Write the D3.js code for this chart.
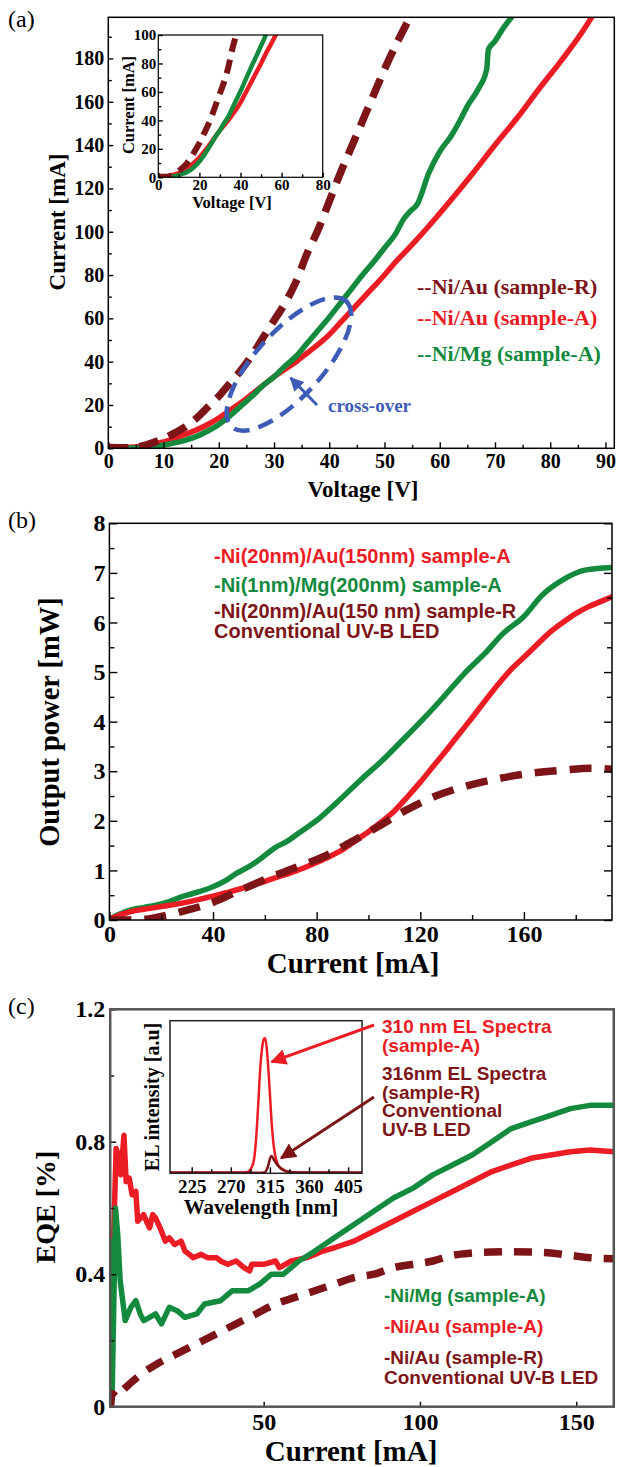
<!DOCTYPE html>
<html>
<head>
<meta charset="utf-8">
<script src="https://cdnjs.cloudflare.com/ajax/libs/d3/7.8.5/d3.min.js"></script>
<style>
body { margin: 0; background: #fff; }
</style>
</head>
<body>
<svg id="fig"></svg>
<script>
// colours
const colR = '#7d1518';     // Ni/Au sample-R (dashed)
const colA = '#ec1c24';     // Ni/Au sample-A
const colMg = '#138a3e';    // Ni/Mg sample-A
const colNote = '#3c5cb8';  // cross-over note
const serif = '"Liberation Serif", "Times New Roman", serif';
const sans = '"Liberation Sans", Arial, sans-serif';

// (a) I-V curves, [voltage V, current mA]
const ivSampleR = [[0,0.5],[2,0.3],[4,0.3],[6,1],[8,2.5],[10,4.5],[12,7],[14,10],[16,14],[18,19],[20,24],[22,30],[24,36],[26,43],[28,51],[30,59],[32,67],[34,77],[36,90],[38,101],[40,114],[42,127],[44,139],[46,151],[48,163],[50,175],[52,186],[54,196],[55,201]];
const ivNiAu = [[0,0.5],[4,0.5],[8,2],[10,3],[12,4.5],[14,6.5],[16,8.5],[18,11],[20,14],[22,17.5],[24,21],[26,25],[28,29],[30,33],[32,36.5],[34,40],[36,44],[38,48],[40,52.5],[42,58],[44,63.5],[46,69],[48,74.5],[50,80],[52,86],[55,94],[58,102.5],[62,114.5],[66,127],[70,140],[74,152.5],[78,166],[82,179],[86,193],[87.5,199]];
const ivNiMg = [[0,0],[4,0],[8,0.8],[10,1.5],[12,2.5],[14,3.8],[16,5.5],[18,8],[20,11],[22,15],[24,19.5],[26,24],[28,29],[30,33],[32,38],[34,42.5],[36,48.5],[38,54.5],[40,60.5],[42,67],[44,73.5],[46,80],[48,86],[50,92.5],[52,99],[53.5,106],[54.5,109],[56,113],[58,127],[60,137],[62,144],[64,153],[65,158],[67,166],[68.5,175],[68.8,184],[70,188],[71.5,194],[73,199]];
const ivXTicks = [0,10,20,30,40,50,60,70,80,90];
const ivXMinor = [5,15,25,35,45,55,65,75,85];
const ivYTicks = [0,20,40,60,80,100,120,140,160,180];
const ivYMinor = [10,30,50,70,90,110,130,150,170,190];
const insetXTicks = [0,20,40,60,80];
const insetXMinor = [10,30,50,70];
const insetYTicks = [0,20,40,60,80,100];
const insetYMinor = [10,30,50,70,90];
const ivLegend = ['--Ni/Au (sample-R)', '--Ni/Au (sample-A)', '--Ni/Mg (sample-A)'];

// (b) output power, [current mA, power mW]
const lopNiAu = [[0,0.02],[5,0.12],[10,0.19],[15,0.23],[20,0.27],[25,0.31],[30,0.36],[35,0.42],[40,0.48],[45,0.55],[50,0.62],[55,0.7],[60,0.78],[65,0.87],[70,0.95],[75,1.05],[80,1.16],[85,1.28],[90,1.42],[95,1.6],[100,1.78],[105,1.98],[110,2.2],[115,2.48],[120,2.78],[125,3.1],[130,3.42],[135,3.75],[140,4.08],[145,4.42],[150,4.75],[155,5.05],[160,5.3],[165,5.55],[170,5.8],[175,6.0],[180,6.18],[185,6.32],[190,6.43],[194,6.52]];
const lopNiMg = [[0,0.02],[4,0.12],[8,0.2],[13,0.25],[18,0.3],[23,0.37],[28,0.47],[34,0.56],[40,0.67],[45,0.8],[49,0.94],[54,1.08],[58,1.22],[64,1.46],[69,1.6],[73,1.75],[81,2.05],[88,2.38],[97.5,2.85],[105,3.2],[113,3.62],[122,4.1],[129,4.5],[137,4.97],[145,5.38],[152,5.78],[160,6.12],[167,6.55],[175,6.86],[184,7.06],[194,7.11]];
const lopSampleR = [[0,0],[5,0],[10,0],[15,0.02],[20,0.07],[25,0.13],[30,0.2],[37,0.3],[43,0.42],[49,0.57],[55,0.7],[61,0.84],[67,0.96],[73,1.08],[84,1.31],[94.5,1.61],[103.6,1.88],[114,2.2],[125,2.48],[137,2.69],[149,2.84],[163,2.96],[175,3.02],[186,3.06],[194,3.04]];
const lopXTicks = [0,40,80,120,160];
const lopXMinor = [20,60,100,140,180];
const lopYTicks = [0,1,2,3,4,5,6,7,8];
const lopYMinor = [0.5,1.5,2.5,3.5,4.5,5.5,6.5,7.5];
const lopLegend = ['-Ni(20nm)/Au(150nm) sample-A', '-Ni(1nm)/Mg(200nm) sample-A', '-Ni(20nm)/Au(150 nm) sample-R', 'Conventional UV-B LED'];

// (c) EQE, [current mA, EQE %]
const eqeNiAu = [[1.0,0.47],[1.6,0.38],[2.8,0.78],[3.5,0.76],[4.3,0.7],[5.3,0.82],[6.0,0.68],[7.0,0.69],[7.9,0.64],[9.1,0.65],[9.7,0.56],[11.6,0.58],[12.5,0.56],[13.5,0.54],[14.5,0.58],[15.4,0.57],[17.3,0.53],[18.5,0.5],[19.8,0.51],[21.5,0.49],[23.6,0.5],[24.8,0.47],[26.2,0.46],[27.4,0.45],[30,0.46],[32,0.45],[34.9,0.45],[36.2,0.44],[38.5,0.43],[41.2,0.44],[43.7,0.42],[45.5,0.41],[46.2,0.43],[47.5,0.43],[50,0.43],[53.8,0.44],[55,0.42],[57,0.43],[58.8,0.44],[63.8,0.45],[66.4,0.46],[68.9,0.47],[72.6,0.48],[78.9,0.5],[85.2,0.53],[91.5,0.56],[97.8,0.59],[104.1,0.62],[110.4,0.65],[116.7,0.68],[123,0.71],[129.2,0.73],[135.5,0.75],[141.8,0.76],[148.1,0.77],[154.4,0.775],[162,0.77]];
const eqeNiMg = [[1.0,0.5],[1.5,0.02],[2.6,0.6],[3.3,0.52],[4.1,0.38],[5.7,0.26],[7.5,0.3],[9.1,0.32],[10.5,0.28],[11.6,0.26],[13.5,0.27],[15.4,0.28],[17.3,0.25],[19.8,0.3],[22.3,0.29],[24.8,0.27],[28.6,0.28],[31.1,0.31],[36.2,0.32],[39.9,0.35],[45,0.35],[48.7,0.37],[52.5,0.4],[56.3,0.4],[61.3,0.44],[66.4,0.47],[72.6,0.51],[78.9,0.55],[85.2,0.59],[91.5,0.63],[97.8,0.66],[104.1,0.7],[110.4,0.73],[116.7,0.76],[123,0.8],[129.2,0.84],[135.5,0.86],[141.8,0.88],[148.1,0.9],[154.4,0.91],[162,0.91]];
const eqeSampleR = [[1.0,0.0],[1.5,0.04],[3,0.03],[5,0.05],[9.7,0.09],[16,0.13],[22.3,0.16],[28.6,0.19],[34.9,0.22],[41.2,0.25],[47.5,0.28],[53.8,0.31],[60,0.33],[66.4,0.35],[72.6,0.37],[78.9,0.39],[85.2,0.4],[91.5,0.42],[97.8,0.43],[104.1,0.44],[110.4,0.457],[116.7,0.464],[123,0.467],[129.2,0.468],[135.5,0.467],[141.8,0.464],[148.1,0.457],[154.4,0.45],[162,0.447]];
const eqeXTicks = [50,100,150];
const eqeYTicks = [0,0.4,0.8,1.2];
const eqeYMinor = [0.2,0.6,1.0];
const eqeLegend = ['-Ni/Mg (sample-A)', '-Ni/Au (sample-A)', '-Ni/Au (sample-R)', 'Conventional UV-B LED'];

// (c) inset EL spectra, [wavelength nm, intensity a.u.]
const specSampleA = [[200,0.005],[250,0.005],[285,0.005],[290,0.01],[294,0.04],[297,0.1],[300,0.3],[302,0.5],[304,0.7],[306,0.82],[308,0.88],[309.5,0.885],[311,0.84],[313,0.7],[315,0.52],[317,0.33],[319,0.2],[321,0.12],[324,0.06],[328,0.03],[335,0.012],[350,0.006],[421,0.005]];
const specSampleR = [[200,0.004],[300,0.004],[309,0.006],[311,0.02],[313,0.05],[315,0.095],[316.5,0.113],[318,0.105],[320,0.085],[323,0.06],[326,0.04],[330,0.025],[335,0.012],[345,0.005],[421,0.004]];
const specXTicks = [225,270,315,360,405];
const specXMinor = [247.5,292.5,337.5,382.5];
const specLabelA = ['310 nm EL Spectra', '(sample-A)'];
const specLabelR = ['316nm EL Spectra', '(sample-R)', 'Conventional', 'UV-B LED'];

const svg = d3.select('#fig').attr('width', 617).attr('height', 1467);
const defs = svg.append('defs');

function clip(id, x0, y0, x1, y1) {
    defs.append('clipPath').attr('id', id).append('rect')
        .attr('x', x0).attr('y', y0).attr('width', x1 - x0).attr('height', y1 - y0);
    return 'url(#' + id + ')';
}

function arrowHead(id, color, size) {
    defs.append('marker').attr('id', id)
        .attr('viewBox', '0 0 10 10').attr('refX', 9).attr('refY', 5)
        .attr('markerWidth', size).attr('markerHeight', size)
        .attr('markerUnits', 'userSpaceOnUse').attr('orient', 'auto')
        .append('path').attr('d', 'M0,0L10,5L0,10Z').attr('fill', color);
}

// ticks pointing into the plot, labels optional
function ticks(axis, pos, values, size, labels, fontSize, pad) {
    const a = axis.tickValues(values).tickSizeInner(size).tickSizeOuter(0).tickPadding(pad)
        .tickFormat(labels ? d3.format('') : () => '');
    const g = svg.append('g').attr('transform', pos).call(a)
        .attr('font-family', serif).attr('font-size', fontSize).attr('font-weight', 'bold');
    g.select('.domain').remove();
    g.selectAll('line').attr('stroke', '#000').attr('stroke-width', 1.4);
    g.selectAll('text').attr('fill', '#000');
    return g;
}

function frame(x, y, color, width) {
    svg.append('rect')
        .attr('x', x.range()[0]).attr('y', y.range()[1])
        .attr('width', x.range()[1] - x.range()[0]).attr('height', y.range()[0] - y.range()[1])
        .attr('fill', 'none').attr('stroke', color).attr('stroke-width', width);
}

function curve(data, x, y, color, width, dash, clipUrl, interp) {
    const line = d3.line().x(d => x(d[0])).y(d => y(d[1])).curve(interp || d3.curveMonotoneX);
    svg.append('path').datum(data)
        .attr('d', line)
        .attr('fill', 'none').attr('stroke', color).attr('stroke-width', width)
        .attr('stroke-dasharray', dash).attr('stroke-linejoin', 'round')
        .attr('stroke-linecap', dash ? 'butt' : 'round')
        .attr('clip-path', clipUrl);
}

function label(text, x, y, size, color, family, anchor, rotate) {
    const t = svg.append('text').text(text)
        .attr('font-family', family).attr('font-size', size).attr('font-weight', 'bold')
        .attr('fill', color).attr('text-anchor', anchor || 'start');
    if (rotate) {
        t.attr('transform', 'translate(' + x + ',' + y + ') rotate(-90)').attr('dy', '0.35em');
    } else {
        t.attr('x', x).attr('y', y);
    }
    return t;
}

function panelTag(text, y) {
    svg.append('text').text(text).attr('x', 8).attr('y', y)
        .attr('font-family', serif).attr('font-size', 24).attr('fill', '#000');
}

arrowHead('headBlue', colNote, 14);
arrowHead('headRed', colA, 16);
arrowHead('headDark', colR, 16);

// ---------------- (a) I-V ----------------
const xA = d3.scaleLinear().domain([0, 91.6]).range([108.3, 614.3]);
const yA = d3.scaleLinear().domain([0, 199]).range([448.3, 17.3]);
const clipA = clip('clipA', 108.3, 17.3, 614.3, 448.3);

curve(ivNiAu, xA, yA, colA, 5.5, null, clipA);
curve(ivNiMg, xA, yA, colMg, 5.5, null, clipA);
curve(ivSampleR, xA, yA, colR, 7.5, '20,11', clipA);

ticks(d3.axisBottom(xA), 'translate(0,448.3)', ivXTicks, -6, true, 20, 6);
ticks(d3.axisBottom(xA), 'translate(0,448.3)', ivXMinor, -3.5, false, 20, 6);
ticks(d3.axisLeft(yA), 'translate(108.3,0)', ivYTicks, -5, true, 20, 4);
ticks(d3.axisLeft(yA), 'translate(108.3,0)', ivYMinor, -3.5, false, 20, 4);
frame(xA, yA, '#000', 1.5);

label('Voltage [V]', 363, 497, 23, '#000', serif, 'middle');
label('Current [mA]', 57, 222, 23, '#000', serif, 'middle', true);

// cross-over ellipse and arrow
svg.append('ellipse')
    .attr('cx', xA(32.7)).attr('cy', yA(38.9)).attr('rx', 85).attr('ry', 33)
    .attr('transform', 'rotate(-47.6,' + xA(32.7) + ',' + yA(38.9) + ')')
    .attr('fill', 'none').attr('stroke', colNote).attr('stroke-width', 4.5)
    .attr('stroke-dasharray', '16,9');
svg.append('line')
    .attr('x1', 317).attr('y1', 405).attr('x2', xA(33)).attr('y2', yA(32.5))
    .attr('stroke', colNote).attr('stroke-width', 3).attr('marker-end', 'url(#headBlue)');
label('cross-over', 328, 412, 19, colNote, serif);

const ivColors = [colR, colA, colMg];
const ivLegendY = [294, 325, 361];
ivLegend.forEach((t, i) => label(t, 417, ivLegendY[i], 22, ivColors[i], serif));

// inset of (a)
const xI = d3.scaleLinear().domain([0, 80]).range([158.3, 322.7]);
const yI = d3.scaleLinear().domain([0, 100]).range([177.3, 35]);
const clipI = clip('clipI', 158.3, 35, 322.7, 177.3);
svg.append('rect').attr('x', 158.3).attr('y', 35).attr('width', 164.4).attr('height', 142.3).attr('fill', '#fff');
curve(ivNiAu, xI, yI, colA, 4.5, null, clipI);
curve(ivNiMg, xI, yI, colMg, 4.5, null, clipI);
curve(ivSampleR, xI, yI, colR, 6, '14,8', clipI);
ticks(d3.axisBottom(xI), 'translate(0,177.3)', insetXTicks, -4.5, true, 15, 2);
ticks(d3.axisBottom(xI), 'translate(0,177.3)', insetXMinor, -3, false, 15, 2);
ticks(d3.axisLeft(yI), 'translate(158.3,0)', insetYTicks, -4.5, true, 15, 2);
ticks(d3.axisLeft(yI), 'translate(158.3,0)', insetYMinor, -3, false, 15, 2);
frame(xI, yI, '#000', 1.2);
label('Voltage [V]', 232, 208, 16.5, '#000', serif, 'middle');
label('Current [mA]', 128, 105, 16.5, '#000', serif, 'middle', true);

panelTag('(a)', 27);

// ---------------- (b) L-I ----------------
const xB = d3.scaleLinear().domain([0, 194]).range([109.4, 612]);
const yB = d3.scaleLinear().domain([0, 8]).range([920, 523.3]);
const clipB = clip('clipB', 109.4, 523.3, 612, 920);

curve(lopNiMg, xB, yB, colMg, 5.5, null, clipB);
curve(lopNiAu, xB, yB, colA, 5.5, null, clipB);
curve(lopSampleR, xB, yB, colR, 7.5, '22,13', clipB);

ticks(d3.axisBottom(xB), 'translate(0,920)', lopXTicks, -8, true, 24, 5);
ticks(d3.axisBottom(xB), 'translate(0,920)', lopXMinor, -5, false, 24, 5);
ticks(d3.axisLeft(yB), 'translate(109.4,0)', lopYTicks, -8, true, 24, 4);
ticks(d3.axisLeft(yB), 'translate(109.4,0)', lopYMinor, -5, false, 24, 4);
ticks(d3.axisRight(yB), 'translate(612,0)', lopYTicks, -8, false, 24, 4);
ticks(d3.axisRight(yB), 'translate(612,0)', lopYMinor, -5, false, 24, 4);
frame(xB, yB, '#000', 1.5);

label('Current [mA]', 353, 973, 29, '#000', serif, 'middle');
label('Output power [mW]', 49, 722, 28.5, '#000', serif, 'middle', true);

const lopColors = [colA, colMg, colR, colR];
const lopLegendY = [563, 592, 618, 638];
lopLegend.forEach((t, i) => label(t, 214, lopLegendY[i], 20, lopColors[i], sans));

panelTag('(b)', 528);

// ---------------- (c) EQE ----------------
const xC = d3.scaleLinear().domain([0.9, 162]).range([110.2, 613.8]);
const yC = d3.scaleLinear().domain([0, 1.2]).range([1406.7, 1009.3]);
const clipC = clip('clipC', 110.2, 1009.3, 613.8, 1406.7);

curve(eqeNiAu, xC, yC, colA, 5.5, null, clipC, d3.curveLinear);
curve(eqeNiMg, xC, yC, colMg, 5.5, null, clipC, d3.curveLinear);
curve(eqeSampleR, xC, yC, colR, 7.5, '18,12', clipC);

ticks(d3.axisBottom(xC), 'translate(0,1406.7)', eqeXTicks, -5, true, 24, 6);
ticks(d3.axisLeft(yC), 'translate(110.2,0)', eqeYTicks, -6, true, 24, 5);
ticks(d3.axisLeft(yC), 'translate(110.2,0)', eqeYMinor, -4, false, 24, 5);
frame(xC, yC, '#555', 2.5);

label('Current [mA]', 351, 1461, 29, '#000', serif, 'middle');
label('EQE [%]', 45, 1207, 28, '#000', serif, 'middle', true);

const eqeColors = [colMg, colA, colR, colR];
const eqeLegendY = [1302, 1333, 1364, 1384];
eqeLegend.forEach((t, i) => label(t, 384, eqeLegendY[i], 19, eqeColors[i], sans));

// inset of (c)
const xS = d3.scaleLinear().domain([200, 421]).range([170, 362]);
const yS = d3.scaleLinear().domain([0, 1]).range([1173.3, 1020.7]);
const clipS = clip('clipS', 170, 1020.7, 362, 1173.3);
svg.append('rect').attr('x', 170).attr('y', 1020.7).attr('width', 192).attr('height', 152.6).attr('fill', '#fff');
curve(specSampleA, xS, yS, colA, 2.5, null, clipS);
curve(specSampleR, xS, yS, colR, 2.5, null, clipS);
ticks(d3.axisBottom(xS), 'translate(0,1173.3)', specXTicks, -6, true, 19, 6);
ticks(d3.axisBottom(xS), 'translate(0,1173.3)', specXMinor, -4, false, 19, 6);
frame(xS, yS, '#222', 1.5);
label('Wavelength [nm]', 261, 1214, 21, '#000', serif, 'middle');
label('EL intensity [a.u]', 151.5, 1097, 20, '#000', serif, 'middle', true);

// spectra arrows and notes
svg.append('line')
    .attr('x1', 374).attr('y1', 1025).attr('x2', xS(317)).attr('y2', yS(0.73))
    .attr('stroke', colA).attr('stroke-width', 3).attr('marker-end', 'url(#headRed)');
svg.append('line')
    .attr('x1', 374).attr('y1', 1097).attr('x2', xS(328)).attr('y2', yS(0.1))
    .attr('stroke', colR).attr('stroke-width', 3).attr('marker-end', 'url(#headDark)');
const specAY = [1033, 1052];
specLabelA.forEach((t, i) => label(t, 382, specAY[i], 19, colA, sans));
const specRY = [1080, 1098.5, 1117, 1135.5];
specLabelR.forEach((t, i) => label(t, 382, specRY[i], 19, colR, sans));

panelTag('(c)', 1014);
</script>
</body>
</html>
